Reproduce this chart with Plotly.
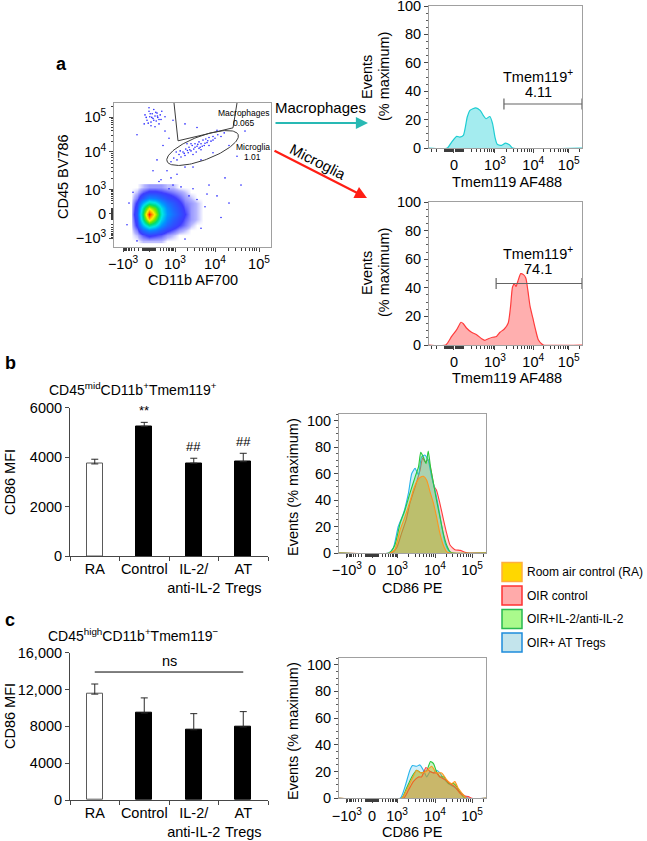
import numpy as np
import plotly.graph_objects as go

W, H = 647, 841
def px(x): return x / W
def py(y): return 1 - y / H

# ---------------- DATA ----------------
flow_ticktext = ["−10<sup>3</sup>", "0", "10<sup>3</sup>", "10<sup>4</sup>", "10<sup>5</sup>"]

# Panel a – CD11b / CD45 dot plot (display units of the logicle axes)
scat_x_ticks = [-0.65, 0.0, 0.65, 1.65, 2.75]
scat_y_ticks = [-0.67, 0.0, 0.67, 1.72, 2.69]
density_x = [-0.45, -0.3, -0.15, 0.0, 0.15, 0.3, 0.45, 0.6, 0.75, 0.9, 1.05, 1.2, 1.35]
density_y = [-0.75, -0.6, -0.45, -0.3, -0.15, 0.0, 0.15, 0.3, 0.45, 0.6, 0.75]
density_z = [
    [0, 0, 1, 1, 1, 1, 0, 0, 0, 0, 0, 0, 0],
    [0, 1, 4, 6, 5, 4, 2, 1, 0, 0, 0, 0, 0],
    [0, 3, 12, 18, 15, 10, 6, 4, 2, 1, 0, 0, 0],
    [0, 6, 26, 42, 34, 20, 12, 8, 5, 3, 1, 0, 0],
    [0, 8, 42, 78, 56, 30, 17, 11, 7, 4, 2, 1, 0],
    [0, 10, 48, 100, 68, 35, 20, 14, 9, 5, 2, 1, 0],
    [0, 8, 40, 70, 55, 32, 18, 12, 8, 4, 2, 1, 0],
    [0, 6, 25, 40, 35, 22, 14, 10, 6, 3, 2, 1, 0],
    [0, 3, 10, 18, 16, 12, 8, 6, 4, 2, 1, 0, 0],
    [0, 1, 4, 6, 6, 5, 4, 3, 2, 1, 0, 0, 0],
    [0, 0, 1, 2, 2, 2, 1, 1, 0, 0, 0, 0, 0],
]
microglia_x = [0.55, 0.62, 0.70, 0.75, 0.80, 0.85, 0.90, 0.92, 0.98, 1.00, 1.05, 1.08, 1.12, 1.15, 1.18, 1.20,
               1.25, 1.28, 1.30, 1.35, 1.38, 1.42, 1.45, 1.50, 1.55, 1.60, 1.65, 1.72, 1.80, 1.88, 0.95, 1.10,
               1.30, 0.68, 1.50, 1.70, 1.02, 1.22, 1.40, 0.88, 1.60, 1.15, 0.78, 1.33, 1.47, 1.05, 1.25, 0.96]
microglia_y = [1.45, 1.55, 1.50, 1.65, 1.58, 1.72, 1.62, 1.80, 1.70, 1.85, 1.75, 1.90, 1.80, 1.95, 1.72, 1.88,
               2.00, 1.85, 1.95, 2.05, 1.90, 2.08, 1.98, 2.12, 2.02, 2.15, 2.10, 2.20, 2.15, 2.25, 1.95, 1.65,
               1.78, 1.72, 1.90, 2.32, 1.78, 1.93, 1.96, 1.68, 2.05, 1.85, 1.75, 1.88, 2.03, 1.95, 1.82, 1.76]
macro_x = [-0.10, -0.05, 0.00, 0.02, 0.05, 0.08, 0.10, 0.12, 0.15, 0.18, 0.20, 0.22, 0.25, 0.28, 0.30, 0.05,
           0.15, -0.12, 0.32, 0.00, 0.07, 0.17, 0.25, -0.02, 0.12, 0.03, 0.21, -0.07]
macro_y = [2.75, 2.60, 2.85, 2.70, 2.55, 2.78, 2.65, 2.90, 2.72, 2.58, 2.80, 2.68, 2.50, 2.75, 2.62, 2.45,
           2.42, 2.50, 2.85, 2.95, 2.68, 2.82, 2.62, 2.52, 2.60, 2.78, 2.72, 2.68]
other_x = [0.40, 0.50, 0.35, 0.45, 0.55, 0.30, 0.70, 0.90, 1.10, 1.30, 1.60, 2.00, 2.20, 1.90, 1.50, 1.70,
           2.00, 1.40, 1.80, 1.30, 0.90, -0.30, -0.50, -0.55, 0.60, 0.90, 1.20, 0.40, -0.30, 2.40, 0.20, 0.10,
           0.60, 1.10, 2.30, 1.20, 1.45, 0.80, 1.00, -0.40, 0.25, 0.50]
other_y = [2.30, 2.10, 1.90, 1.20, 1.00, 0.95, 1.10, 1.30, 1.30, 1.50, 1.70, 1.90, 1.60, 1.00, 0.80, 0.50,
           0.30, 0.20, -0.10, -0.40, -0.70, -0.75, 0.30, -0.30, 2.60, 2.50, 2.40, 2.70, 2.20, 2.30, 1.50, 1.20,
           0.80, 0.70, 0.80, 0.40, 0.55, 0.75, 0.50, 0.60, 0.90, 0.70]
macro_gate_x = [0.625, 0.725, 2.10, 2.20]
macro_gate_y = [3.08, 2.03, 2.39, 3.08]

# Panel a – Tmem119 histograms
tmem_ticks = [0.0, 1.05, 2.03, 2.94]
tmem_ticktext = ["0", "10<sup>3</sup>", "10<sup>4</sup>", "10<sup>5</sup>"]
mac_x = [-0.64, -0.17, -0.06, 0.07, 0.15, 0.24, 0.34, 0.41, 0.56, 0.67, 0.75, 0.82, 0.92, 0.99, 1.05, 1.11,
         1.22, 1.32, 1.42, 1.50, 3.28]
mac_y = [0, 0, 4.2, 8.2, 7.7, 8.9, 21.8, 26.5, 28.3, 26.5, 23, 20.6, 22.2, 17, 7.7, 2.6, 1.9, 3.5, 2.3, 0, 0]
mic_x = [-0.64, -0.21, -0.06, 0.07, 0.18, 0.24, 0.32, 0.45, 0.58, 0.71, 0.79, 0.88, 0.99, 1.09, 1.18, 1.29,
         1.39, 1.45, 1.50, 1.55, 1.59, 1.65, 1.71, 1.78, 1.84, 1.89, 1.95, 2.02, 2.09, 2.16, 2.25, 2.29, 3.28]
mic_y = [0, 0, 6, 10.7, 15.9, 14.9, 11.9, 8.9, 7.2, 4.4, 3.3, 4.4, 5.4, 6, 8.9, 11.2, 15.4, 27, 40.6, 42.7,
         41, 45.7, 49.9, 49.2, 46.9, 38.7, 27, 18.9, 10.7, 3.7, 0.7, 0, 0]
mac_gate = [1.28, 3.28]; mac_gate_level = 31; mac_pct = "4.11"
mic_gate = [1.08, 3.28]; mic_gate_level = 43; mic_pct = "74.1"

# Panels b, c – bar charts
groups = ["RA", "Control", "IL-2/<br>anti-IL-2", "AT<br>Tregs"]
b_mfi = [3720, 5240, 3750, 3810]
b_err = [190, 160, 200, 340]
b_marks = ["", "**", "##", "##"]
c_mfi = [11500, 9450, 7630, 7930]
c_err = [1100, 1640, 1750, 1670]

# Panels b, c – CD86 histograms
cd86_ticks = [-0.67, 0.0, 0.67, 1.68, 2.67]
series_names = ["Room air control (RA)", "OIR control", "OIR+IL-2/anti-IL-2", "OIR+ AT Tregs"]
b_ra_x = [-0.88, 0.48, 0.61, 0.75, 0.88, 1.01, 1.10, 1.19, 1.28, 1.37, 1.46, 1.55, 1.64, 1.72, 1.81, 1.90, 1.99, 2.08, 3.04]
b_ra_y = [0, 0, 2.5, 17.5, 27.5, 38.75, 47.5, 53.75, 57, 58, 55, 46, 37.5, 27.5, 15, 6, 1, 0, 0]
b_oir_x = [-0.88, 0.52, 0.66, 0.79, 0.91, 1.01, 1.15, 1.28, 1.35, 1.41, 1.50, 1.59, 1.66, 1.72, 1.81, 1.90, 1.99, 2.08, 2.21, 2.35, 2.48, 2.61, 3.04]
b_oir_y = [0, 0, 4, 15, 25, 37.5, 50, 62.5, 72, 69, 70.5, 60, 50, 47.5, 37.5, 26, 15, 6, 2.5, 2, 0.5, 0, 0]
b_il2_x = [-0.88, 0.46, 0.61, 0.75, 0.88, 1.01, 1.15, 1.24, 1.30, 1.37, 1.44, 1.50, 1.56, 1.64, 1.72, 1.81, 1.90, 1.99, 2.08, 2.17, 3.04]
b_il2_y = [0, 0, 6, 22.5, 32.5, 45, 57.5, 65, 76, 72.5, 67.5, 77, 65, 52.5, 40, 27.5, 15, 6, 1, 0, 0]
b_at_x = [-0.88, 0.44, 0.57, 0.70, 0.84, 0.97, 1.06, 1.15, 1.24, 1.32, 1.41, 1.50, 1.59, 1.68, 1.77, 1.86, 1.95, 2.04, 2.12, 3.04]
b_at_y = [0, 0, 4, 20, 30, 45, 60, 64, 59, 72.5, 74, 70, 57.5, 47.5, 35, 20, 7.5, 2, 0, 0]

c_ra_x = [-0.88, 0.79, 0.92, 1.06, 1.19, 1.30, 1.44, 1.59, 1.72, 1.86, 1.99, 2.12, 2.21, 2.30, 2.44, 2.52, 3.04]
c_ra_y = [0, 0, 6, 14, 21, 19, 20, 24, 19, 19, 14, 11, 12.5, 7.5, 2.5, 0, 0]
c_oir_x = [-0.88, 0.84, 0.97, 1.10, 1.24, 1.32, 1.44, 1.55, 1.64, 1.72, 1.81, 1.95, 2.08, 2.21, 2.35, 2.48, 2.57, 2.66, 3.04]
c_oir_y = [0, 0, 6, 12.5, 16, 16, 23, 20, 19, 19, 16, 14, 11, 8.75, 3.75, 1.75, 1.25, 0, 0]
c_il2_x = [-0.88, 0.79, 0.92, 1.06, 1.19, 1.32, 1.46, 1.56, 1.64, 1.72, 1.81, 1.92, 2.04, 2.17, 2.26, 2.36, 2.48, 3.04]
c_il2_y = [0, 0, 7.5, 16, 21, 19, 21, 27.5, 26, 20, 16, 16, 11, 11, 8.75, 3.75, 0, 0]
c_at_x = [-0.88, 0.75, 0.88, 1.01, 1.08, 1.19, 1.28, 1.37, 1.46, 1.55, 1.64, 1.72, 1.81, 1.90, 2.04, 2.17, 2.30, 2.44, 2.57, 3.04]
c_at_y = [0, 0, 8.75, 21, 24.5, 24, 25, 21, 16, 20, 19, 21, 19, 15, 11, 8.75, 6, 2.5, 0, 0]

# ---------------- STYLE ----------------
FONT = "Liberation Sans, Arial, sans-serif"
FS = 14.5
ftick = dict(family=FONT, size=FS, color="black")
series_line = ["rgb(255,150,30)", "rgb(255,60,60)", "rgb(40,200,60)", "rgb(40,180,235)"]
series_fill = ["rgba(215,160,0,0.38)", "rgba(255,90,90,0.25)", "rgba(70,215,70,0.28)", "rgba(80,190,230,0.25)"]
legend_fill = ["rgb(255,215,0)", "rgb(255,170,170)", "rgb(170,250,140)", "rgb(195,228,236)"]
legend_edge = ["rgb(255,175,60)", "rgb(255,50,50)", "rgb(40,185,80)", "rgb(30,140,220)"]
jet = [[0, "white"], [0.012, "rgb(180,180,255)"], [0.05, "rgb(60,60,255)"], [0.2, "rgb(0,150,255)"],
       [0.32, "rgb(0,230,230)"], [0.45, "rgb(0,220,110)"], [0.58, "rgb(110,230,0)"], [0.72, "rgb(255,240,0)"],
       [0.86, "rgb(255,140,0)"], [1, "rgb(255,20,0)"]]


def log_minor(p_lo, p_hi):
    return [p_lo + (p_hi - p_lo) * np.log10(m) for m in range(2, 10)]


def lin_minor(p0, p1k):
    w = 150.0
    vals = list(range(10, 100, 10)) + list(range(100, 1000, 100))
    pos = [p0 + (p1k - p0) * np.arcsinh(v / w) / np.arcsinh(1000 / w) for v in vals]
    neg = [p0 - (p1k - p0) * np.arcsinh(v / w) / np.arcsinh(1000 / w) for v in vals]
    return pos + neg


def flow_minor(p0, p3, p4, p5, rng):
    d = p5 - p4
    t = lin_minor(p0, p3) + log_minor(p3, p4) + log_minor(p4, p5) + log_minor(p5, p5 + d)
    t += [p0 - (p3 - p0) - d * np.log10(m) for m in range(2, 10)]
    return [v for v in t if rng[0] < v < rng[1]]


fig = go.Figure()

# ---- panel a dot plot ----
fig.add_trace(go.Heatmap(x=density_x, y=density_y, z=density_z, zmin=0, zmax=100, zsmooth="best",
                         colorscale=jet, showscale=False, xaxis="x", yaxis="y", hoverinfo="skip"))
for xs, ys in [(microglia_x, microglia_y), (macro_x, macro_y), (other_x, other_y)]:
    fig.add_trace(go.Scatter(x=xs, y=ys, mode="markers", xaxis="x", yaxis="y", hoverinfo="skip",
                             marker=dict(size=1.6, color="rgb(40,40,255)"), showlegend=False))
fig.add_trace(go.Scatter(x=macro_gate_x, y=macro_gate_y, mode="lines", xaxis="x", yaxis="y",
                         line=dict(color="rgb(60,60,60)", width=1), showlegend=False, hoverinfo="skip"))
# microglia ellipse gate (centre in axis units, semi-axes in pixels)
t = np.linspace(0, 2 * np.pi, 120)
ecx, ecy, ea, eb, eang = 1.34, 1.83, 38.0, 12.0, np.deg2rad(20.6)
ex = ecx + (ea * np.cos(t) * np.cos(eang) + eb * np.sin(t) * np.sin(eang)) / 40.0
ey = ecy + (ea * np.cos(t) * np.sin(eang) - eb * np.sin(t) * np.cos(eang)) / 36.0
fig.add_trace(go.Scatter(x=ex, y=ey, mode="lines", xaxis="x", yaxis="y",
                         line=dict(color="rgb(60,60,60)", width=1), showlegend=False, hoverinfo="skip"))

# ---- panel a histograms ----
fig.add_trace(go.Scatter(x=mac_x, y=mac_y, mode="lines", fill="tozeroy", xaxis="x2", yaxis="y2",
                         line=dict(color="rgb(30,205,210)", width=1.2, shape="spline", smoothing=0.6),
                         fillcolor="rgba(90,220,225,0.55)", showlegend=False, hoverinfo="skip"))
fig.add_trace(go.Scatter(x=mic_x, y=mic_y, mode="lines", fill="tozeroy", xaxis="x3", yaxis="y3",
                         line=dict(color="rgb(255,60,60)", width=1.2, shape="spline", smoothing=0.6),
                         fillcolor="rgba(255,110,110,0.55)", showlegend=False, hoverinfo="skip"))
for ax, gx, lvl in [("2", mac_gate, mac_gate_level), ("3", mic_gate, mic_gate_level)]:
    fig.add_trace(go.Scatter(x=gx, y=[lvl, lvl], mode="lines+markers", xaxis="x" + ax, yaxis="y" + ax,
                             line=dict(color="rgb(100,100,100)", width=1.2),
                             marker=dict(symbol="line-ns-open", size=8, line=dict(width=1.2, color="rgb(100,100,100)")),
                             showlegend=False, hoverinfo="skip"))

# ---- bars ----
for ax, vals, errs in [("4", b_mfi, b_err), ("6", c_mfi, c_err)]:
    fig.add_trace(go.Bar(x=groups, y=vals, xaxis="x" + ax, yaxis="y" + ax, width=0.33,
                         marker=dict(color=["white", "black", "black", "black"],
                                     line=dict(color=["rgb(90,90,90)", "black", "black", "black"], width=1)),
                         error_y=dict(type="data", array=errs, arrayminus=[0] * 4, symmetric=False,
                                      color="rgb(40,40,40)", thickness=1, width=3.5),
                         showlegend=False, hoverinfo="skip"))

# ---- CD86 histograms ----
b_sets = [(b_oir_x, b_oir_y, 1), (b_at_x, b_at_y, 3), (b_il2_x, b_il2_y, 2), (b_ra_x, b_ra_y, 0)]
c_sets = [(c_at_x, c_at_y, 3), (c_il2_x, c_il2_y, 2), (c_oir_x, c_oir_y, 1), (c_ra_x, c_ra_y, 0)]
for ax, sets in [("5", b_sets), ("7", c_sets)]:
    for xs, ys, k in sets:
        fig.add_trace(go.Scatter(x=xs, y=ys, mode="lines", fill="tozeroy", xaxis="x" + ax, yaxis="y" + ax,
                                 line=dict(color=series_line[k], width=1.1, shape="spline", smoothing=0.5),
                                 fillcolor=series_fill[k], name=series_names[k], showlegend=False,
                                 hoverinfo="skip"))

# ---------------- AXES ----------------
def dom_x(a, b): return [px(a), px(b)]
def dom_y(top, bottom): return [py(bottom), py(top)]

flow_common = dict(showline=True, linecolor="rgb(160,160,160)", mirror=True, ticks="outside", ticklen=4,
                   tickcolor="rgb(70,70,70)", showgrid=False, zeroline=False, tickfont=ftick, fixedrange=True,
                   automargin=False, ticklabeloverflow="allow")
bar_common = dict(showline=True, linecolor="rgb(70,70,70)", ticks="outside", ticklen=4, tickcolor="rgb(70,70,70)",
                  showgrid=False, zeroline=False, tickfont=ftick, automargin=False, fixedrange=True,
                  ticklabeloverflow="allow")

scat_xr = [-0.875, 3.05]; scat_yr = [-0.92, 3.08]
tm_r = [-0.64, 3.28]
cd_r = [-0.88, 3.04]
ymin = dict(dtick=5, ticklen=2, ticks="outside", tickcolor="rgb(90,90,90)")
layout_axes = dict(
    xaxis=dict(domain=dom_x(114, 271), range=scat_xr, tickvals=scat_x_ticks, ticktext=flow_ticktext, anchor="y", **flow_common),
    yaxis=dict(domain=dom_y(103, 247), range=scat_yr, tickvals=scat_y_ticks, ticktext=flow_ticktext, anchor="x", **flow_common),
    xaxis2=dict(domain=dom_x(429, 582), range=tm_r, tickvals=tmem_ticks, ticktext=tmem_ticktext, anchor="y2", **flow_common),
    yaxis2=dict(domain=dom_y(6, 148), range=[0, 100], tickvals=[0, 20, 40, 60, 80, 100], anchor="x2", minor=ymin, **flow_common),
    xaxis3=dict(domain=dom_x(429, 582), range=tm_r, tickvals=tmem_ticks, ticktext=tmem_ticktext, anchor="y3", **flow_common),
    yaxis3=dict(domain=dom_y(202, 345), range=[0, 100], tickvals=[0, 20, 40, 60, 80, 100], anchor="x3", minor=ymin, **flow_common),
    xaxis4=dict(domain=dom_x(70, 268), anchor="y4", range=[-0.5, 3.5], tickson="boundaries", tickangle=0, **bar_common),
    yaxis4=dict(domain=dom_y(407.5, 556), anchor="x4", range=[0, 6000], tickvals=[0, 2000, 4000, 6000],
                ticktext=["0", "2000", "4000", "6000"], **bar_common),
    xaxis5=dict(domain=dom_x(339, 486), range=cd_r, tickvals=cd86_ticks, ticktext=flow_ticktext, anchor="y5", **flow_common),
    yaxis5=dict(domain=dom_y(414, 553), range=[0, 105], tickvals=[0, 20, 40, 60, 80, 100], anchor="x5",
                minor=ymin, **flow_common),
    xaxis6=dict(domain=dom_x(70, 268), anchor="y6", range=[-0.5, 3.5], tickson="boundaries", tickangle=0, **bar_common),
    yaxis6=dict(domain=dom_y(652.7, 800), anchor="x6", range=[0, 16000], tickvals=[0, 4000, 8000, 12000, 16000],
                ticktext=["0", "4000", "8000", "12,000", "16,000"], **bar_common),
    xaxis7=dict(domain=dom_x(339, 486), range=cd_r, tickvals=cd86_ticks, ticktext=flow_ticktext, anchor="y7", **flow_common),
    yaxis7=dict(domain=dom_y(658, 798.3), range=[0, 105], tickvals=[0, 20, 40, 60, 80, 100], anchor="x7",
                minor=ymin, **flow_common),
)

# minor logicle ticks via overlay axes
minor_common = dict(showline=False, showgrid=False, zeroline=False, ticks="outside", ticklen=2.5,
                    tickcolor="rgb(60,60,60)", showticklabels=False, fixedrange=True, automargin=False)
overlays = [
    ("xaxis8", "x8", dict(overlaying="x", anchor="y", side="bottom", range=scat_xr,
                          tickvals=flow_minor(0, 0.65, 1.65, 2.75, scat_xr)), "y"),
    ("yaxis8", "y8", dict(overlaying="y", anchor="x", side="left", range=scat_yr,
                          tickvals=flow_minor(0, 0.67, 1.72, 2.69, scat_yr)), None),
    ("xaxis9", "x9", dict(overlaying="x2", anchor="y2", side="bottom", range=tm_r,
                          tickvals=flow_minor(0, 1.05, 2.03, 2.94, tm_r)), "y2"),
    ("xaxis10", "x10", dict(overlaying="x3", anchor="y3", side="bottom", range=tm_r,
                            tickvals=flow_minor(0, 1.05, 2.03, 2.94, tm_r)), "y3"),
    ("xaxis11", "x11", dict(overlaying="x5", anchor="y5", side="bottom", range=cd_r,
                            tickvals=flow_minor(0, 0.67, 1.68, 2.67, cd_r)), "y5"),
    ("xaxis12", "x12", dict(overlaying="x7", anchor="y7", side="bottom", range=cd_r,
                            tickvals=flow_minor(0, 0.67, 1.68, 2.67, cd_r)), "y7"),
]
for name, short, spec, yref in overlays:
    layout_axes[name] = dict(**spec, **minor_common)
    if yref is not None:
        fig.add_trace(go.Scatter(x=[None], y=[None], xaxis=short, yaxis=yref, showlegend=False, hoverinfo="skip"))
    else:
        fig.add_trace(go.Scatter(x=[None], y=[None], xaxis="x", yaxis=short, showlegend=False, hoverinfo="skip"))

# ---------------- ANNOTATIONS ----------------
ann = []
def text(s, x, y, size=FS, angle=0, bold=False, xanchor="center", yanchor="middle"):
    ann.append(dict(text=f"<b>{s}</b>" if bold else s, x=px(x), y=py(y), xref="paper", yref="paper",
                    showarrow=False, textangle=angle, xanchor=xanchor, yanchor=yanchor, borderpad=0,
                    font=dict(family=FONT, size=size, color="black")))

text("a", 62, 64, size=18, bold=True)
text("b", 10, 363, size=18, bold=True)
text("c", 10, 620, size=18, bold=True)
text("CD45 BV786", 63, 177, angle=-90)
text("CD11b AF700", 193, 280)
text("Macrophages", 244, 112.7, size=8.5)
text("0.065", 244, 123, size=8.5)
text("Microglia", 253, 146.7, size=8.5)
text("1.01", 252, 157, size=8.5)
text("Macrophages", 320, 108, size=15)
text("Microglia", 318, 161, size=15, angle=27)
for yc in (77, 273):
    text("Events", 367, yc, angle=-90)
    text("(% maximum)", 384, yc, angle=-90)
text("Tmem119 AF488", 507, 182)
text("Tmem119 AF488", 507, 378)
text("Tmem119<sup>+</sup>", 538, 76)
text(mac_pct, 538, 92)
text("Tmem119<sup>+</sup>", 538, 253)
text(mic_pct, 538, 269)
text("CD45<sup>mid</sup>CD11b<sup>+</sup>Tmem119<sup>+</sup>", 133, 389, size=14)
text("CD45<sup>high</sup>CD11b<sup>+</sup>Tmem119<sup>−</sup>", 133, 635, size=14)
text("CD86 MFI", 10, 482, angle=-90)
text("CD86 MFI", 10, 716, angle=-90)
text("Events (% maximum)", 293, 487, angle=-90)
text("Events (% maximum)", 293, 731, angle=-90)
text("CD86 PE", 412, 588)
text("CD86 PE", 412, 832)

# arrows
ann.append(dict(x=px(368), y=py(123), ax=-94, ay=0, xref="paper", yref="paper", axref="pixel", ayref="pixel",
                text="", showarrow=True, arrowhead=2, arrowsize=1.1, arrowwidth=2.2, arrowcolor="rgb(40,185,180)"))
ann.append(dict(x=px(367), y=py(198), ax=-94, ay=-48, xref="paper", yref="paper", axref="pixel", ayref="pixel",
                text="", showarrow=True, arrowhead=2, arrowsize=1.1, arrowwidth=2.2, arrowcolor="rgb(255,30,20)"))

# significance marks on bars
for i, m in enumerate(b_marks):
    if m:
        ann.append(dict(text=m, x=groups[i], y=b_mfi[i] + b_err[i], xref="x4", yref="y4", showarrow=False,
                        yanchor="bottom", yshift=2, font=dict(family=FONT, size=13, color="black")))
ann.append(dict(text="ns", x=1.5, y=13900, xref="x6", yref="y6", showarrow=False, yanchor="bottom", yshift=1,
                font=dict(family=FONT, size=FS, color="black")))

shapes = [dict(type="line", xref="x6", yref="y6", x0=0, x1=3, y0=13900, y1=13900,
               line=dict(color="black", width=1))]

# legend (custom swatches)
for k, name in enumerate(series_names):
    yc = 572 + k * 23.5
    shapes.append(dict(type="rect", xref="paper", yref="paper", x0=px(502), x1=px(522), y0=py(yc + 9.5),
                       y1=py(yc - 9.5), fillcolor=legend_fill[k], line=dict(color=legend_edge[k], width=1.5)))
    text(name, 526, yc, size=12, xanchor="left")

fig.update_layout(width=W, height=H, margin=dict(l=0, r=0, t=0, b=0, autoexpand=False), paper_bgcolor="white",
                  plot_bgcolor="white", showlegend=False, annotations=ann, shapes=shapes, hovermode=False,
                  font=dict(family=FONT, size=FS, color="black"), bargap=0, **layout_axes)

fig.write_html("out.html", config={"displayModeBar": False},
               post_script="document.body.style.margin='0px';document.body.style.padding='0px';")
